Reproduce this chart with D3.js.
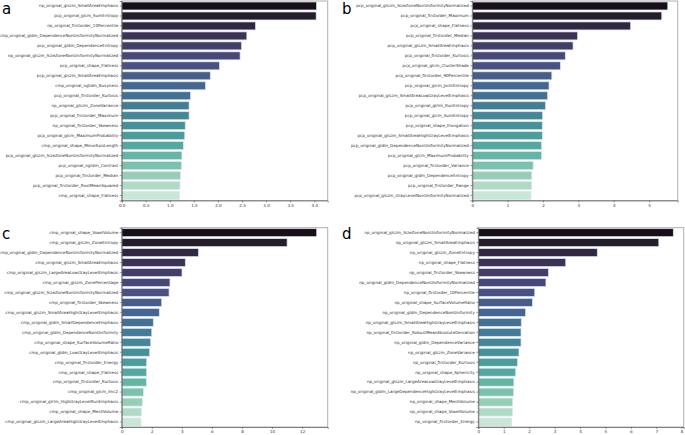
<!DOCTYPE html>
<html>
<head>
<meta charset="utf-8">
<script src="https://cdn.jsdelivr.net/npm/d3@7"></script>
<style>
  body { margin: 0; background: #fff; }
  text { font-family: "DejaVu Sans", sans-serif; }
</style>
</head>
<body>
<div id="chart"></div>
<script>
// Feature importance, four panels

var namesA = ["np_original_glszm_SmallAreaEmphasis", "pcp_original_glcm_SumEntropy", "np_original_firstorder_10Percentile",
  "cmp_original_gldm_DependenceNonUniformityNormalized", "pcp_original_gldm_DependenceEntropy",
  "np_original_glszm_SizeZoneNonUniformityNormalized", "pcp_original_shape_Flatness", "pcp_original_glszm_SmallAreaEmphasis",
  "cmp_original_ngtdm_Busyness", "pcp_original_firstorder_Kurtosis", "np_original_glszm_ZoneVariance",
  "pcp_original_firstorder_Maximum", "np_original_firstorder_Skewness", "pcp_original_glcm_MaximumProbability",
  "cmp_original_shape_MinorAxisLength", "pcp_original_glszm_SizeZoneNonUniformityNormalized", "pcp_original_ngtdm_Contrast",
  "pcp_original_firstorder_Median", "pcp_original_firstorder_RootMeanSquared", "cmp_original_shape_Flatness"];
var valuesA = [4.05, 4.04, 2.78, 2.60, 2.49, 2.46, 2.03, 1.84, 1.74, 1.43, 1.40, 1.40, 1.32, 1.31, 1.28, 1.25, 1.24, 1.22, 1.21, 1.20];

var namesB = ["pcp_original_glszm_SizeZoneNonUniformityNormalized", "pcp_original_firstorder_Maximum", "pcp_original_shape_Flatness",
  "pcp_original_firstorder_Median", "pcp_original_glszm_SmallAreaEmphasis", "pcp_original_firstorder_Kurtosis",
  "pcp_original_glcm_ClusterShade", "pcp_original_firstorder_90Percentile", "pcp_original_glcm_JointEntropy",
  "pcp_original_glszm_SmallAreaLowGrayLevelEmphasis", "pcp_original_glrlm_RunEntropy", "pcp_original_glcm_SumEntropy",
  "pcp_original_shape_Elongation", "pcp_original_glszm_SmallAreaHighGrayLevelEmphasis",
  "pcp_original_gldm_DependenceNonUniformityNormalized", "pcp_original_glcm_MaximumProbability",
  "pcp_original_firstorder_Variance", "pcp_original_gldm_DependenceEntropy", "pcp_original_firstorder_Range",
  "pcp_original_glszm_GrayLevelNonUniformityNormalized"];
var valuesB = [5.53, 5.36, 4.48, 2.98, 2.85, 2.63, 2.49, 2.25, 2.17, 2.13, 2.07, 1.99, 1.98, 1.98, 1.96, 1.96, 1.72, 1.68, 1.68, 1.66];

var namesC = ["cmp_original_shape_VoxelVolume", "cmp_original_glszm_ZoneEntropy", "cmp_original_gldm_DependenceNonUniformityNormalized",
  "cmp_original_glszm_SmallAreaEmphasis", "cmp_original_glszm_LargeAreaLowGrayLevelEmphasis", "cmp_original_glszm_ZonePercentage",
  "cmp_original_glszm_SizeZoneNonUniformityNormalized", "cmp_original_firstorder_Skewness",
  "cmp_original_glszm_SmallAreaHighGrayLevelEmphasis", "cmp_original_gldm_SmallDependenceEmphasis",
  "cmp_original_gldm_DependenceNonUniformity", "cmp_original_shape_SurfaceVolumeRatio", "cmp_original_gldm_LowGrayLevelEmphasis",
  "cmp_original_firstorder_Energy", "cmp_original_shape_Flatness", "cmp_original_firstorder_Kurtosis", "cmp_original_glcm_Imc2",
  "cmp_original_glrlm_HighGrayLevelRunEmphasis", "cmp_original_shape_MeshVolume", "cmp_original_glszm_LargeAreaHighGrayLevelEmphasis"];
var valuesC = [12.97, 11.0, 5.10, 4.23, 4.01, 3.21, 3.15, 2.66, 2.50, 2.10, 2.00, 1.93, 1.86, 1.66, 1.66, 1.64, 1.44, 1.37, 1.30, 1.28];

var namesD = ["np_original_glszm_SizeZoneNonUniformityNormalized", "np_original_glszm_SmallAreaEmphasis", "np_original_glszm_ZoneEntropy",
  "np_original_shape_Flatness", "np_original_firstorder_Skewness", "np_original_gldm_DependenceNonUniformityNormalized",
  "np_original_firstorder_10Percentile", "np_original_shape_SurfaceVolumeRatio", "np_original_gldm_DependenceNonUniformity",
  "np_original_glszm_SmallAreaHighGrayLevelEmphasis", "np_original_firstorder_RobustMeanAbsoluteDeviation",
  "np_original_gldm_DependenceVariance", "np_original_glszm_ZoneVariance", "np_original_firstorder_Kurtosis",
  "np_original_shape_Sphericity", "np_original_glszm_LargeAreaLowGrayLevelEmphasis",
  "np_original_gldm_LargeDependenceHighGrayLevelEmphasis", "np_original_shape_MeshVolume", "np_original_shape_VoxelVolume",
  "np_original_firstorder_Energy"];
var valuesD = [7.67, 7.10, 4.68, 3.44, 2.76, 2.66, 2.22, 2.13, 1.86, 1.69, 1.68, 1.68, 1.60, 1.54, 1.47, 1.40, 1.39, 1.35, 1.34, 1.31];

var ticksA = [0, 0.5, 1, 1.5, 2, 2.5, 3, 3.5, 4];
var ticksB = [0, 1, 2, 3, 4, 5];
var ticksC = [0, 2, 4, 6, 8, 10, 12];
var ticksD = [0, 1, 2, 3, 4, 5, 6, 7, 8];

// mako colour stops, muted like seaborn's default saturation
var makoStops = ["#0B0405", "#2B1C35", "#3E356B", "#40498E", "#366A9F", "#348AA6", "#38AAAC", "#54C9AD", "#A0DFB9", "#DEF5E5"];
var mako = d3.interpolateRgbBasis(makoStops);
function barColor(i, n) {
  var c = d3.hsl(mako((i + 1) / (n + 1)));
  c.s = c.s * 0.75;
  return c.formatHex();
}

var width = 685, height = 435;
var svg = d3.select("#chart").append("svg").attr("width", width).attr("height", height);

var panels = [
  { letter: "a", names: namesA, values: valuesA, ticks: ticksA, fmt: d3.format(".1f"), max: 4.28, x0: 121.7, x1: 327.7, y0: 1, y1: 200.5, lx: 2, ly: 14 },
  { letter: "b", names: namesB, values: valuesB, ticks: ticksB, fmt: d3.format("d"), max: 5.81, x0: 472.3, x1: 677.7, y0: 1, y1: 200.5, lx: 342, ly: 14 },
  { letter: "c", names: namesC, values: valuesC, ticks: ticksC, fmt: d3.format("d"), max: 13.7, x0: 121.7, x1: 327.7, y0: 227.7, y1: 427, lx: 2, ly: 239 },
  { letter: "d", names: namesD, values: valuesD, ticks: ticksD, fmt: d3.format("d"), max: 8.08, x0: 478.3, x1: 683.7, y0: 227.7, y1: 427, lx: 342, ly: 239 }
];

panels.forEach(function(p) {
  var g = svg.append("g");

  var xScale = d3.scaleLinear().domain([0, p.max]).range([p.x0, p.x1]);
  var yScale = d3.scaleBand().domain(p.names).range([p.y0, p.y1]).paddingInner(0.2).paddingOuter(0.1);

  // bars
  g.selectAll("rect.bar")
    .data(p.values)
    .enter()
    .append("rect")
    .attr("class", "bar")
    .attr("x", xScale(0))
    .attr("y", function(d, i) { return yScale(p.names[i]); })
    .attr("width", function(d) { return xScale(d) - xScale(0); })
    .attr("height", yScale.bandwidth())
    .attr("fill", function(d, i) { return barColor(i, p.values.length); })
    .attr("stroke", "#dde3ee")
    .attr("stroke-width", 0.7);

  // frame
  g.append("rect")
    .attr("x", p.x0).attr("y", p.y0)
    .attr("width", p.x1 - p.x0).attr("height", p.y1 - p.y0)
    .attr("fill", "none").attr("stroke", "#b0b0b0").attr("stroke-width", 1);

  // axes
  var yAxis = d3.axisLeft(yScale).tickSize(2).tickPadding(1.5);
  var gy = g.append("g").attr("transform", "translate(" + p.x0 + ",0)").call(yAxis);
  gy.select(".domain").attr("stroke", "#444").attr("stroke-width", 0.6);
  gy.selectAll(".tick line").attr("stroke", "#444").attr("stroke-width", 0.5);
  gy.selectAll("text").attr("font-size", 4.1).attr("fill", "#333");

  var xAxis = d3.axisBottom(xScale).tickValues(p.ticks).tickFormat(p.fmt).tickSize(2).tickPadding(1.5);
  var gx = g.append("g").attr("transform", "translate(0," + p.y1 + ")").call(xAxis);
  gx.select(".domain").attr("stroke", "#444").attr("stroke-width", 0.6);
  gx.selectAll(".tick line").attr("stroke", "#444").attr("stroke-width", 0.5);
  gx.selectAll("text").attr("font-size", 4.1).attr("fill", "#333");

  // panel letter
  g.append("text")
    .attr("x", p.lx).attr("y", p.ly)
    .attr("font-size", 15)
    .attr("fill", "#000")
    .text(p.letter);
});
</script>
</body>
</html>
